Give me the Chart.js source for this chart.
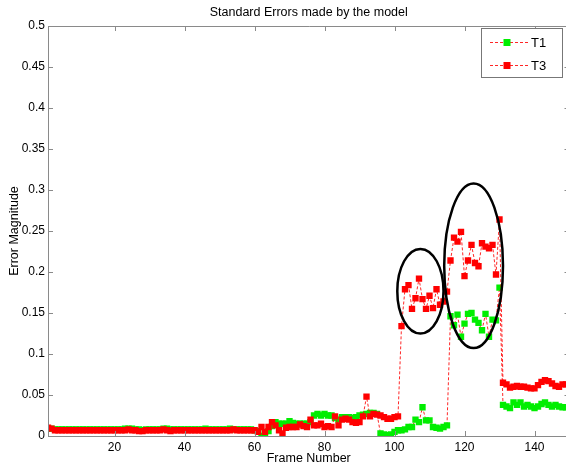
<!DOCTYPE html>
<html>
<head>
<meta charset="utf-8">
<title>Standard Errors made by the model</title>
<script src="https://cdn.jsdelivr.net/npm/chart.js@4/dist/chart.umd.min.js"></script>
<style>
  html, body { margin: 0; padding: 0; background: #fff; overflow: hidden; }
  #wrap { position: absolute; left: 0; top: 0; width: 580px; height: 466px; }
</style>
</head>
<body>
<div id="wrap"><canvas id="chart" width="580" height="466"></canvas></div>
<script>
  /*
    ==================================================
    ======================= DATA =====================
    ==================================================
  */

  let titleText = 'Standard Errors made by the model';
  let xTitle = 'Frame Number';
  let yTitle = 'Error Magnitude';

  let xTicks = [20, 40, 60, 80, 100, 120, 140];
  let yTicks = [0, 0.05, 0.1, 0.15, 0.2, 0.25, 0.3, 0.35, 0.4, 0.45, 0.5];
  let yTickLabels = ['0', '0.05', '0.1', '0.15', '0.2', '0.25', '0.3', '0.35', '0.4', '0.45', '0.5'];

  // frames 1..149
  let t1 = [
    0.009, 0.009, 0.008, 0.008, 0.008, 0.008, 0.008, 0.008, 0.008, 0.008,
    0.008, 0.008, 0.008, 0.008, 0.008, 0.008, 0.008, 0.008, 0.008, 0.008,
    0.008, 0.008, 0.009, 0.009, 0.009, 0.008, 0.008, 0.007, 0.008, 0.008,
    0.008, 0.008, 0.008, 0.009, 0.009, 0.008, 0.008, 0.008, 0.008, 0.008,
    0.008, 0.008, 0.008, 0.008, 0.008, 0.009, 0.008, 0.008, 0.008, 0.008,
    0.008, 0.008, 0.009, 0.008, 0.008, 0.008, 0.008, 0.008, 0.008, 0.007,
    0.006, 0.000, 0.004, 0.006, 0.012, 0.017, 0.015, 0.015, 0.015, 0.018,
    0.016, 0.015, 0.015, 0.015, 0.015, 0.017, 0.025, 0.027, 0.025, 0.027,
    0.025, 0.025, 0.022, 0.020, 0.023, 0.023, 0.023, 0.022, 0.023, 0.025,
    0.026, 0.027, 0.028, 0.028, 0.027, 0.003, 0.002, 0.001, 0.002, 0.005,
    0.007, 0.007, 0.008, 0.011, 0.011, 0.020, 0.017, 0.035, 0.019, 0.019,
    0.011, 0.010, 0.009, 0.011, 0.013, 0.146, 0.135, 0.148, 0.121, 0.137,
    0.149, 0.150, 0.142, 0.138, 0.129, 0.149, 0.121, 0.142, 0.141, 0.181,
    0.038, 0.036, 0.034, 0.041, 0.038, 0.041, 0.036, 0.038, 0.036, 0.034,
    0.036, 0.039, 0.041, 0.038, 0.036, 0.038, 0.036, 0.035, 0.035
  ];

  let t3 = [
    0.010, 0.009, 0.007, 0.007, 0.007, 0.007, 0.007, 0.007, 0.007, 0.007,
    0.007, 0.007, 0.007, 0.007, 0.007, 0.007, 0.007, 0.007, 0.007, 0.007,
    0.007, 0.007, 0.007, 0.008, 0.007, 0.007, 0.006, 0.006, 0.007, 0.007,
    0.007, 0.007, 0.007, 0.008, 0.007, 0.006, 0.007, 0.007, 0.007, 0.007,
    0.007, 0.007, 0.007, 0.007, 0.007, 0.007, 0.007, 0.007, 0.007, 0.007,
    0.007, 0.007, 0.007, 0.008, 0.007, 0.007, 0.007, 0.007, 0.007, 0.007,
    0.005, 0.011, 0.005, 0.011, 0.017, 0.013, 0.007, 0.003, 0.010, 0.011,
    0.011, 0.011, 0.014, 0.012, 0.011, 0.020, 0.013, 0.013, 0.015, 0.011,
    0.012, 0.011, 0.024, 0.013, 0.020, 0.021, 0.020, 0.017, 0.016, 0.017,
    0.024, 0.048, 0.024, 0.027, 0.026, 0.025, 0.023, 0.021, 0.021, 0.023,
    0.024, 0.134, 0.179, 0.184, 0.155, 0.168, 0.192, 0.167, 0.155, 0.171,
    0.156, 0.179, 0.160, 0.164, 0.176, 0.214, 0.242, 0.237, 0.249, 0.195,
    0.214, 0.233, 0.211, 0.207, 0.235, 0.231, 0.229, 0.233, 0.197, 0.264,
    0.065, 0.063, 0.059, 0.060, 0.061, 0.060, 0.060, 0.059, 0.058, 0.058,
    0.062, 0.066, 0.068, 0.067, 0.064, 0.061, 0.060, 0.063, 0.063
  ];

  let frames = t3.map((_, i) => i + 1);

  // annotation ellipses (frame, value, half-width in frames, half-height in value)
  let ellipseFrames = [107.4, 122.6];
  let ellipseValues = [0.1766, 0.2076];
  let ellipseRx = [6.6, 8.4];
  let ellipseRy = [0.0516, 0.1004];

  /*
    ==================================================
    ===================== PLUGINS ====================
    ==================================================
  */

  let FONT = '"Liberation Sans", Arial, Helvetica, sans-serif';
  let AXIS_COLOR = '#8a8a8a';

  let boxPlugin = {
    id: 'box',
    afterDraw(chart) {
      let { ctx, chartArea: a, scales: { x, y } } = chart;
      ctx.save();
      ctx.strokeStyle = AXIS_COLOR;
      ctx.lineWidth = 1;
      ctx.beginPath();
      ctx.rect(a.left + 0.5, a.top + 0.5, a.right - a.left, a.bottom - a.top);
      ctx.stroke();

      // inward ticks on all four sides
      ctx.beginPath();
      xTicks.forEach(v => {
        let px = Math.round(x.getPixelForValue(v)) + 0.5;
        ctx.moveTo(px, a.bottom);
        ctx.lineTo(px, a.bottom - 5);
        ctx.moveTo(px, a.top);
        ctx.lineTo(px, a.top + 5);
      });
      yTicks.forEach(v => {
        let py = Math.round(y.getPixelForValue(v)) + 0.5;
        ctx.moveTo(a.left, py);
        ctx.lineTo(a.left + 5, py);
        ctx.moveTo(a.right, py);
        ctx.lineTo(a.right - 5, py);
      });
      ctx.stroke();

      // title
      ctx.fillStyle = '#000';
      ctx.font = '12.5px ' + FONT;
      ctx.textAlign = 'center';
      ctx.textBaseline = 'middle';
      ctx.fillText(titleText, (a.left + a.right) / 2, 13);
      ctx.restore();
    }
  };

  let ellipsePlugin = {
    id: 'ellipses',
    afterDatasetsDraw(chart) {
      let { ctx, scales: { x, y } } = chart;
      ctx.save();
      ctx.strokeStyle = '#000';
      ctx.lineWidth = 2.5;
      ellipseFrames.forEach((f, i) => {
        let cx = x.getPixelForValue(f);
        let cy = y.getPixelForValue(ellipseValues[i]);
        let rx = x.getPixelForValue(f + ellipseRx[i]) - cx;
        let ry = cy - y.getPixelForValue(ellipseValues[i] + ellipseRy[i]);
        ctx.beginPath();
        ctx.ellipse(cx, cy, rx, ry, 0, 0, Math.PI * 2);
        ctx.stroke();
      });
      ctx.restore();
    }
  };

  let legendPlugin = {
    id: 'boxLegend',
    afterDraw(chart) {
      let { ctx } = chart;
      let left = 481, top = 28, width = 81, height = 49;
      ctx.save();
      ctx.fillStyle = '#fff';
      ctx.fillRect(left, top, width, height);
      ctx.strokeStyle = '#777';
      ctx.lineWidth = 1;
      ctx.strokeRect(left + 0.5, top + 0.5, width, height);

      chart.data.datasets.forEach((ds, i) => {
        let cy = 42 + i * 23;
        ctx.strokeStyle = ds.borderColor;
        ctx.setLineDash(ds.borderDash);
        ctx.beginPath();
        ctx.moveTo(490, cy + 0.5);
        ctx.lineTo(528, cy + 0.5);
        ctx.stroke();
        ctx.setLineDash([]);
        ctx.fillStyle = ds.pointBackgroundColor;
        ctx.fillRect(503.5, cy - 3, 7, 7);
        ctx.fillStyle = '#000';
        ctx.font = '13px ' + FONT;
        ctx.textAlign = 'left';
        ctx.textBaseline = 'middle';
        ctx.fillText(ds.label, 531, cy + 1);
      });
      ctx.restore();
    }
  };

  /*
    ==================================================
    ====================== CHART =====================
    ==================================================
  */

  function series(label, values, color, order) {
    return {
      label,
      data: values.map((v, i) => ({ x: frames[i], y: v })),
      order,
      borderColor: 'rgba(255, 0, 0, 0.85)',
      borderWidth: 1,
      borderDash: [3, 2],
      pointStyle: 'rect',
      pointRadius: 4.5,
      pointBorderWidth: 0,
      pointBackgroundColor: color,
      pointBorderColor: color,
      tension: 0
    };
  }

  new Chart(document.getElementById('chart').getContext('2d'), {
    type: 'line',
    data: {
      datasets: [
        series('T1', t1, '#00ee00', 1),
        series('T3', t3, '#ff0000', 0)
      ]
    },
    options: {
      responsive: false,
      animation: false,
      devicePixelRatio: 1,
      layout: { padding: { top: 26, right: 10.5, bottom: 0, left: 0 } },
      plugins: {
        legend: { display: false },
        title: { display: false },
        tooltip: { enabled: false }
      },
      scales: {
        x: {
          type: 'linear',
          min: 1,
          max: 150,
          afterBuildTicks: s => { s.ticks = xTicks.map(value => ({ value })); },
          afterFit: s => { s.height = 30; },
          grid: { display: false, drawTicks: false },
          border: { display: false },
          ticks: { color: '#000', padding: 4, maxRotation: 0, autoSkip: false, font: { family: FONT, size: 12 } },
          title: { display: true, text: xTitle, color: '#000', padding: { top: 0, bottom: 0 }, font: { family: FONT, size: 12.5 } }
        },
        y: {
          min: 0,
          max: 0.5,
          afterBuildTicks: s => { s.ticks = yTicks.map(value => ({ value })); },
          afterFit: s => { s.width = 48; },
          grid: { display: false, drawTicks: false },
          border: { display: false },
          ticks: {
            color: '#000',
            padding: 3,
            autoSkip: false,
            font: { family: FONT, size: 12 },
            callback: (v, i) => yTickLabels[i]
          },
          title: { display: true, text: yTitle, color: '#000', padding: { top: 7, bottom: 0 }, font: { family: FONT, size: 12.5 } }
        }
      }
    },
    plugins: [boxPlugin, ellipsePlugin, legendPlugin]
  });
</script>
</body>
</html>
